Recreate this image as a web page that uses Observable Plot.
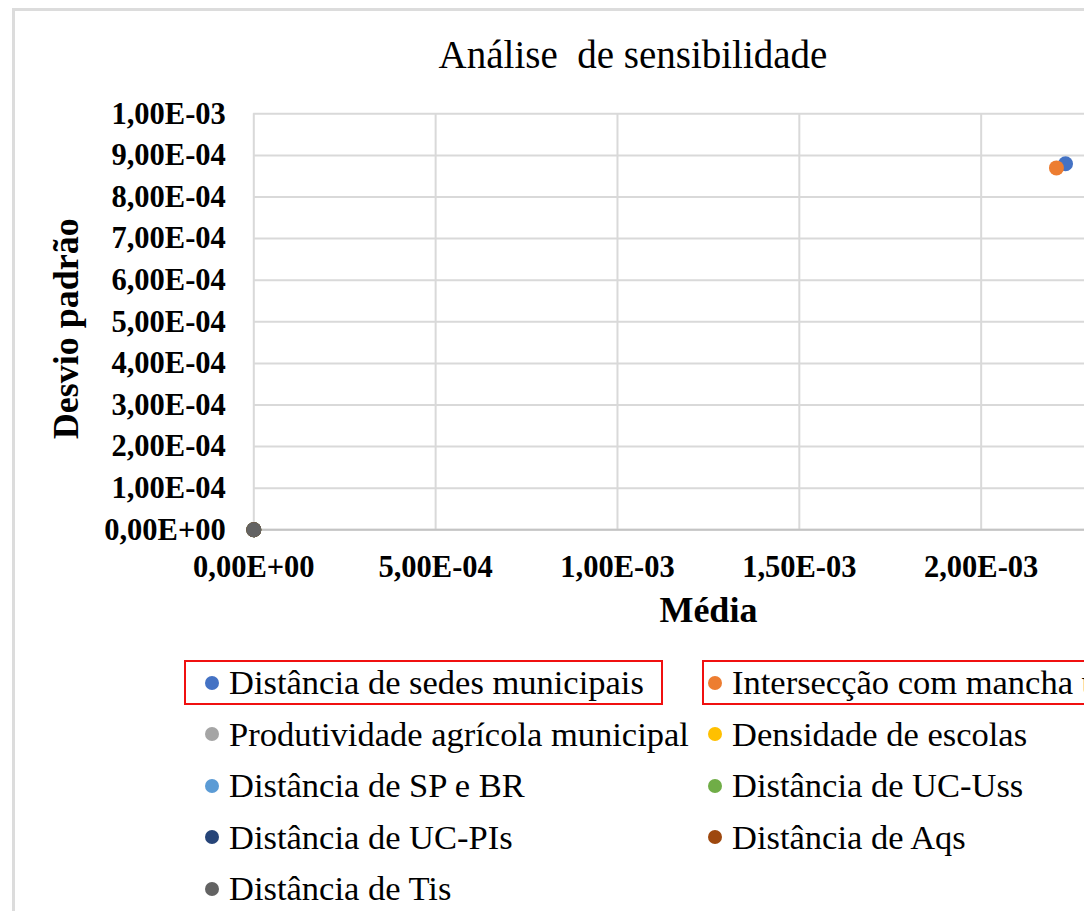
<!DOCTYPE html>
<html><head><meta charset="utf-8">
<script src="https://cdn.jsdelivr.net/npm/d3@7"></script>
<script src="https://cdn.jsdelivr.net/npm/@observablehq/plot@0.6"></script>
<style>
html,body{margin:0;padding:0;background:#fff;}
body{width:1084px;height:911px;overflow:hidden;position:relative;font-family:"Liberation Serif","Times New Roman",serif;color:#000;}
#frame{position:absolute;left:12px;top:8px;width:1300px;height:1000px;border-left:3px solid #dcdcdc;border-top:3px solid #dcdcdc;}
#title{position:absolute;left:0;width:1266px;top:32px;text-align:center;font-size:39px;line-height:46px;white-space:pre;}
#chart{position:absolute;left:0;top:0;}
#legend{position:absolute;left:205px;top:657px;display:grid;grid-template-columns:503px 503px;grid-auto-rows:51.5px;}
.item{display:flex;align-items:center;white-space:nowrap;font-size:34.5px;line-height:51.5px;}
.sw{width:14px;height:14px;border-radius:50%;margin-right:10px;flex:none;}
.box{position:absolute;border:2px solid #f01010;top:660px;height:41px;}
</style></head><body>
<div id="frame"></div>
<div id="title"></div>
<div id="chart"></div>
<div id="legend"></div>
<div class="box" style="left:184px;width:475px;"></div>
<div class="box" style="left:702px;width:500px;"></div>
<script>
const chartTitle = "Análise  de sensibilidade";
const xLabel = "Média";
const yLabel = "Desvio padrão";
const seriesNames = [
  "Distância de sedes municipais",
  "Intersecção com mancha urbana",
  "Produtividade agrícola municipal",
  "Densidade de escolas",
  "Distância de SP e BR",
  "Distância de UC-Uss",
  "Distância de UC-PIs",
  "Distância de Aqs",
  "Distância de Tis"
];
const seriesColors = ["#4472C4","#ED7D31","#A5A5A5","#FFC000","#5B9BD5","#70AD47","#264478","#9E480E","#636363"];
const mediaValues  = [2.232e-3, 2.207e-3, 0, 0, 0, 0, 0, 0, 0];
const desvioValues = [8.80e-4, 8.70e-4, 0, 0, 0, 0, 0, 0, 0];
const xTicks = [0, 5e-4, 1e-3, 1.5e-3, 2e-3];
const xTickLabels = ["0,00E+00","5,00E-04","1,00E-03","1,50E-03","2,00E-03"];
const yTicks = [0, 1e-4, 2e-4, 3e-4, 4e-4, 5e-4, 6e-4, 7e-4, 8e-4, 9e-4, 1e-3];
const yTickLabels = ["0,00E+00","1,00E-04","2,00E-04","3,00E-04","4,00E-04","5,00E-04","6,00E-04","7,00E-04","8,00E-04","9,00E-04","1,00E-03"];

const data = seriesNames.map((s, i) => ({serie: s, media: mediaValues[i], desvio: desvioValues[i]}));

document.getElementById("title").textContent = chartTitle;

const gridStyle = {stroke: "#d9d9d9", strokeWidth: 2, strokeOpacity: 1};
const tickFont = {fontSize: 30.5, fontWeight: "bold", fontFamily: "Liberation Serif", fill: "#000"};
const labelFont = {fontSize: 36, fontWeight: "bold", fontFamily: "Liberation Serif", fill: "#000", lineAnchor: "middle", textAnchor: "middle"};

const plot = Plot.plot({
  width: 1183,
  height: 640,
  marginLeft: 253.3,
  marginRight: 20.5,
  marginTop: 113.3,
  marginBottom: 110.7,
  style: {fontFamily: "Liberation Serif", background: "transparent", maxWidth: "none", overflow: "visible", color: "#000"},
  x: {domain: [0, 2.5e-3]},
  y: {domain: [0, 1e-3]},
  color: {domain: seriesNames, range: seriesColors},
  marks: [
    Plot.gridX(xTicks, gridStyle),
    Plot.gridY(yTicks, gridStyle),
    Plot.ruleY([0], {stroke: "#c4c4c4", strokeWidth: 2}),
    Plot.axisX(xTicks, {tickSize: 0, tickPadding: 26, label: null, tickFormat: d => xTickLabels[xTicks.indexOf(d)], ...tickFont}),
    Plot.axisY(yTicks, {tickSize: 0, tickPadding: 28, label: null, tickFormat: d => yTickLabels[yTicks.indexOf(d)], ...tickFont}),
    Plot.dot(data, {x: "media", y: "desvio", fill: "serie", r: 7.5}),
    Plot.text([xLabel], {text: d => d, frameAnchor: "bottom", dy: 81, ...labelFont}),
    Plot.text([yLabel], {text: d => d, frameAnchor: "left", rotate: -90, dx: -187, dy: 7, ...labelFont})
  ]
});
document.getElementById("chart").appendChild(plot);

const legend = document.getElementById("legend");
seriesNames.forEach((s, i) => {
  const item = document.createElement("div");
  item.className = "item";
  const sw = document.createElement("span");
  sw.className = "sw";
  sw.style.background = seriesColors[i];
  const t = document.createElement("span");
  t.textContent = s;
  item.appendChild(sw);
  item.appendChild(t);
  legend.appendChild(item);
});
</script>
</body></html>
